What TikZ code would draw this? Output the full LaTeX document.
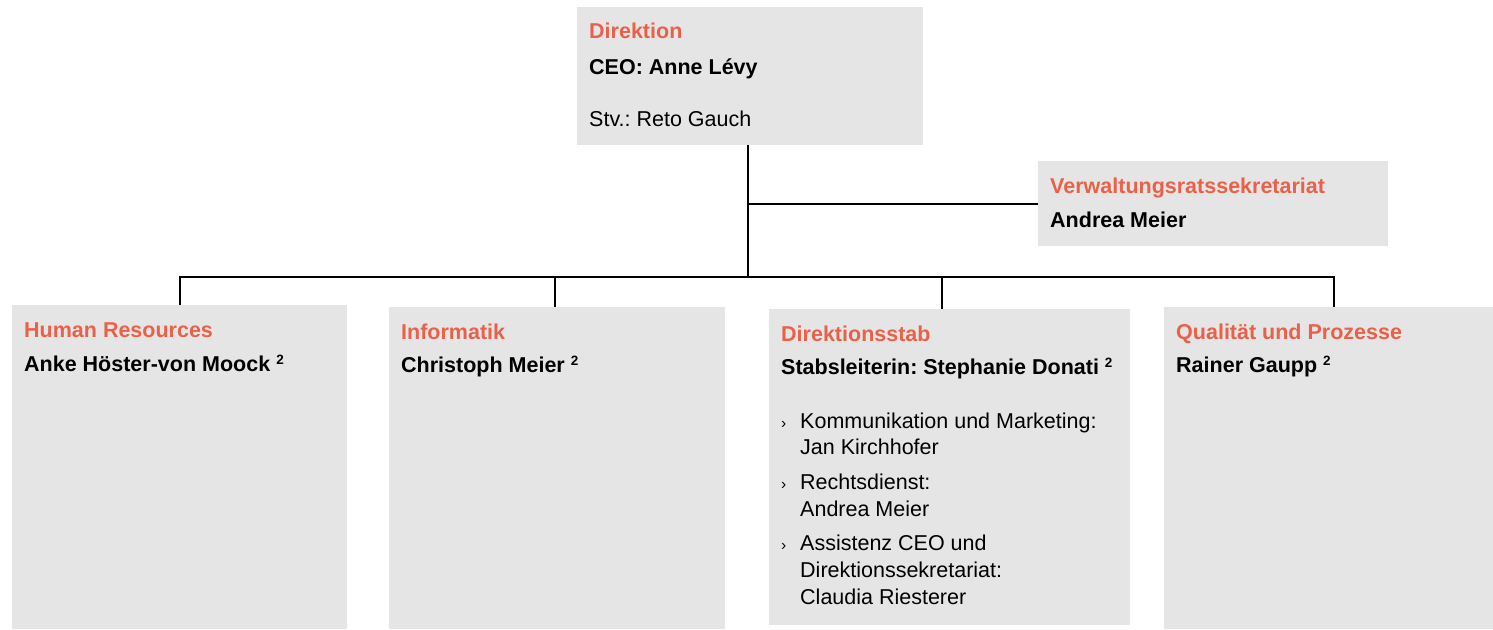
\documentclass[tikz,border=0pt]{standalone}
\usepackage{fontspec}
\setmainfont{Liberation Sans}
\definecolor{boxgray}{HTML}{E5E5E5}
\definecolor{titlecol}{HTML}{EA6149}
\newcommand{\supr}{{\fontsize{13.5}{13.5}\selectfont\raisebox{7pt}{2}}}
\frenchspacing
\begin{document}
\begin{tikzpicture}[x=1pt,y=-1pt,
  box/.style={fill=boxgray, draw=none, inner sep=0pt, outer sep=0pt, anchor=north west},
  txt/.style={anchor=base west, inner sep=0pt, font=\fontsize{21.5}{25}\selectfont\frenchspacing},
  ttl/.style={txt, text=titlecol, font=\fontsize{21.5}{25}\selectfont\bfseries\frenchspacing},
  nam/.style={txt, font=\fontsize{21.5}{25}\selectfont\bfseries\frenchspacing},
  bul/.style={anchor=base west, inner sep=0pt, font=\fontsize{15.5}{15.5}\selectfont},
  conn/.style={line width=2pt, black}]
\useasboundingbox (0,0) rectangle (1493,629);
% boxes
\node[box, minimum width=346pt, minimum height=138pt] (dir) at (577,7) {};
\node[box, minimum width=350pt, minimum height=85pt] (vr) at (1038,161) {};
\node[box, minimum width=335pt, minimum height=324pt] (hr) at (12,305) {};
\node[box, minimum width=336pt, minimum height=322pt] (inf) at (389,307) {};
\node[box, minimum width=361pt, minimum height=316pt] (ds) at (769,309) {};
\node[box, minimum width=329pt, minimum height=322pt] (qp) at (1164,307) {};
% connectors
\coordinate (bar) at (748,277);
\coordinate (b1) at (180,277);
\coordinate (b2) at (555,277);
\coordinate (b3) at (942,277);
\coordinate (b4) at (1334,277);
\draw[conn] (dir.south -| bar) -- (bar);
\draw[conn] (vr.west) -- (vr.west -| bar);
\draw[conn] (b1 |- hr.north) -- (b1) -- (b4) -- (b4 |- qp.north);
\draw[conn] (b2) -- (b2 |- inf.north);
\draw[conn] (b3) -- (b3 |- ds.north);
% texts
\node[ttl] (dir-t) at (589,38) {Direktion};
\node[nam] (dir-n) at (589,74) {CEO: Anne Lévy};
\node[txt] (dir-s) at (589,126) {Stv.: Reto Gauch};
\node[ttl] (vr-t) at (1050,193) {Verwaltungsratssekretariat};
\node[nam] (vr-n) at (1050,227) {Andrea Meier};
\node[ttl] (hr-t) at (24,337) {Human Resources};
\node[nam] (hr-n) at (24,371) {Anke Höster-von Moock \supr};
\node[ttl] (inf-t) at (401,339) {Informatik};
\node[nam] (inf-n) at (401,372) {Christoph Meier \supr};
\node[ttl] (ds-t) at (781,341) {Direktionsstab};
\node[nam] (ds-n) at (781,374) {Stabsleiterin: Stephanie Donati \supr};
\node[bul] (ds-b1) at (781,428) {›};
\node[txt] (ds-l1) at (800,428) {Kommunikation und Marketing:};
\node[txt] (ds-l2) at (800,454) {Jan Kirchhofer};
\node[bul] (ds-b2) at (781,489) {›};
\node[txt] (ds-l3) at (800,489) {Rechtsdienst:};
\node[txt] (ds-l4) at (800,516) {Andrea Meier};
\node[bul] (ds-b3) at (781,550) {›};
\node[txt] (ds-l5) at (800,550) {Assistenz CEO und};
\node[txt] (ds-l6) at (800,577) {Direktionssekretariat:};
\node[txt] (ds-l7) at (800,604) {Claudia Riesterer};
\node[ttl] (qp-t) at (1176,339) {Qualität und Prozesse};
\node[nam] (qp-n) at (1176,372) {Rainer Gaupp \supr};
\end{tikzpicture}
\end{document}
